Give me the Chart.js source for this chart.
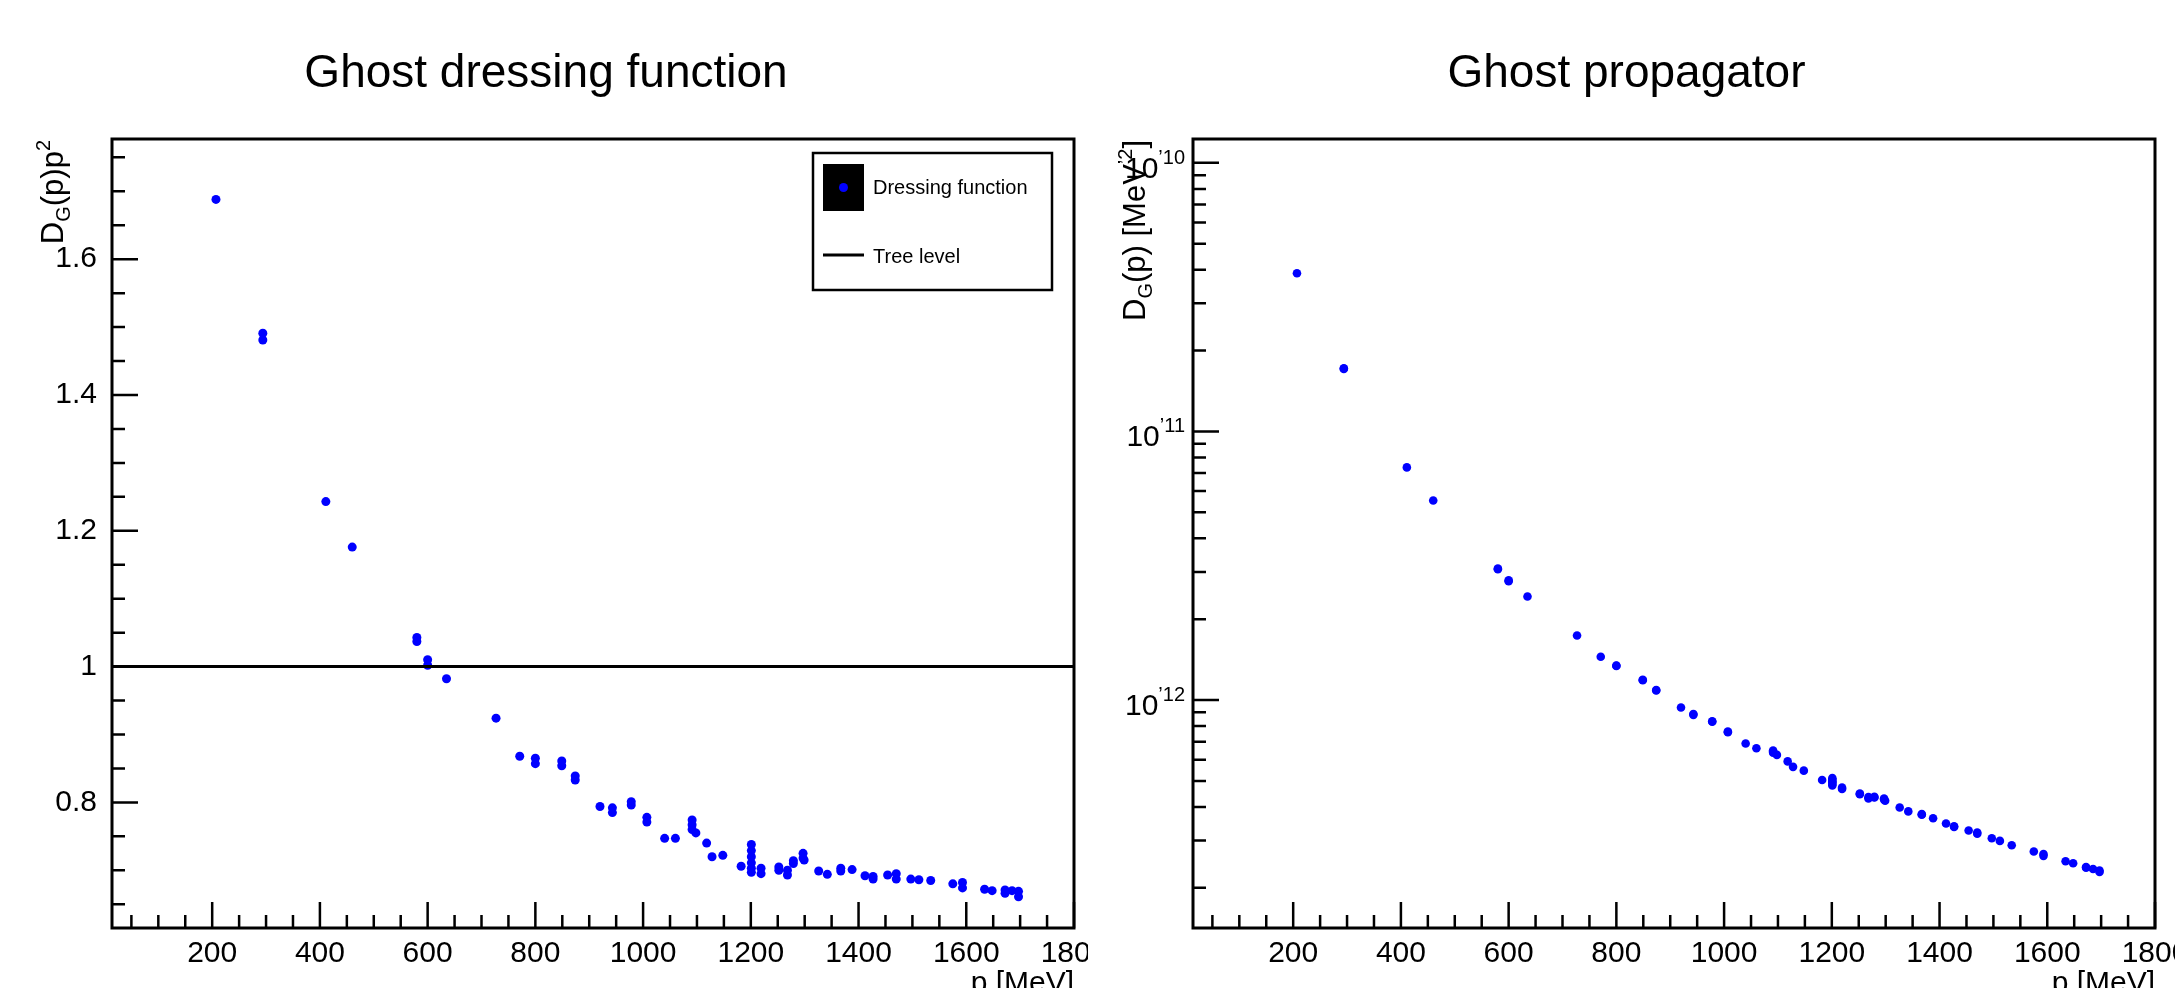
<!DOCTYPE html>
<html>
<head>
<meta charset="utf-8">
<title>Ghost dressing function / Ghost propagator</title>
<script src="https://cdn.jsdelivr.net/npm/chart.js@4.4.1/dist/chart.umd.min.js"></script>
<style>
  html, body { margin: 0; padding: 0; background: #fff; }
  #wrap { position: relative; width: 2175px; height: 988px; overflow: hidden; }
  #wrap canvas { position: absolute; top: 0; }
  #dressing-chart { left: 0; }
  #propagator-chart { left: 1088px; }
</style>
</head>
<body>
<div id="wrap">
  <canvas id="dressing-chart" width="1088" height="988"></canvas>
  <canvas id="propagator-chart" width="1087" height="988"></canvas>
</div>
<script>
// values
const momenta = [
  207, 294, 294, 411, 460, 580, 580, 600, 600, 635,
  727, 771, 800, 800, 849, 849, 874, 874, 920, 943,
  943, 978, 978, 1007, 1007, 1040, 1060, 1091, 1091, 1091,
  1098, 1118, 1128, 1148, 1182, 1201, 1201, 1201, 1201, 1201,
  1201, 1219, 1219, 1252, 1252, 1268, 1268, 1279, 1279, 1297,
  1297, 1299, 1326, 1342, 1367, 1367, 1388, 1412, 1427, 1427,
  1454, 1470, 1470, 1497, 1512, 1534, 1575, 1593, 1593, 1634,
  1648, 1672, 1672, 1685, 1697, 1697
];
const dressing = [
  1.688, 1.491, 1.481, 1.243, 1.176, 1.043, 1.037, 1.010, 1.002, 0.982,
  0.924, 0.868, 0.865, 0.857, 0.861, 0.854, 0.839, 0.833, 0.794, 0.792,
  0.785, 0.801, 0.796, 0.778, 0.771, 0.747, 0.747, 0.774, 0.767, 0.760,
  0.755, 0.740, 0.720, 0.722, 0.706, 0.738, 0.729, 0.720, 0.711, 0.703,
  0.697, 0.703, 0.695, 0.705, 0.700, 0.700, 0.693, 0.714, 0.710, 0.725,
  0.718, 0.715, 0.699, 0.694, 0.703, 0.699, 0.701, 0.692, 0.691, 0.687,
  0.693, 0.695, 0.687, 0.687, 0.686, 0.685, 0.680, 0.682, 0.674, 0.672,
  0.670, 0.671, 0.666, 0.670, 0.669, 0.661
];
const propagator = [
  3.88e-11, 1.72e-11, 1.71e-11, 7.35e-12, 5.53e-12, 3.09e-12, 3.07e-12, 2.79e-12, 2.77e-12, 2.43e-12,
  1.74e-12, 1.45e-12, 1.345e-12, 1.34e-12, 1.19e-12, 1.185e-12, 1.09e-12, 1.085e-12, 9.38e-13, 8.87e-13,
  8.81e-13, 8.34e-13, 8.30e-13, 7.63e-13, 7.59e-13, 6.89e-13, 6.62e-13, 6.49e-13, 6.43e-13, 6.37e-13,
  6.25e-13, 5.91e-13, 5.64e-13, 5.46e-13, 5.04e-13, 5.12e-13, 5.05e-13, 4.98e-13, 4.93e-13, 4.87e-13,
  4.81e-13, 4.72e-13, 4.67e-13, 4.49e-13, 4.46e-13, 4.35e-13, 4.30e-13, 4.36e-13, 4.34e-13, 4.30e-13,
  4.26e-13, 4.22e-13, 3.98e-13, 3.85e-13, 3.76e-13, 3.74e-13, 3.63e-13, 3.47e-13, 3.39e-13, 3.37e-13,
  3.27e-13, 3.21e-13, 3.18e-13, 3.06e-13, 2.99e-13, 2.88e-13, 2.73e-13, 2.67e-13, 2.63e-13, 2.51e-13,
  2.47e-13, 2.39e-13, 2.375e-13, 2.35e-13, 2.32e-13, 2.29e-13
];
const treeLevelMomenta = [14, 1800];
const treeLevelValues = [1, 1];

const momentumRange = [14, 1800];
const dressingRange = [0.615, 1.777];
const propagatorRange = [1.417e-13, 1.227e-10];

const momentumTickLabels = ["200", "400", "600", "800", "1000", "1200", "1400", "1600", "1800"];
const dressingTickLabels = ["0.8", "1", "1.2", "1.4", "1.6"];
const propagatorDecades = [-10, -11, -12];

const FONT = "'Liberation Sans', Arial, Helvetica, sans-serif";

function isMultiple(v, step) {
  const r = v / step;
  return Math.abs(r - Math.round(r)) < 1e-6;
}

function decadeOf(v) {
  const e = Math.floor(Math.log10(v) + 1e-9);
  return { e: e, m: v / Math.pow(10, e) };
}

// text pieces drawn rotated, ending at the top of the frame (ROOT style)
function drawRotatedTitle(ctx, parts, baseX, endY) {
  let total = 0;
  parts.forEach(p => {
    ctx.font = `${p[1]}px ${FONT}`;
    total += ctx.measureText(p[0]).width;
  });
  ctx.save();
  ctx.translate(baseX, endY + total);
  ctx.rotate(-Math.PI / 2);
  ctx.textAlign = "left";
  ctx.textBaseline = "alphabetic";
  let cx = 0;
  parts.forEach(p => {
    ctx.font = `${p[1]}px ${FONT}`;
    ctx.fillText(p[0], cx, p[2]);
    cx += ctx.measureText(p[0]).width;
  });
  ctx.restore();
}

const rootStyle = {
  id: "rootStyle",
  afterDraw(chart, args, opts) {
    const ctx = chart.ctx;
    const a = chart.chartArea;
    const x = chart.scales.x;
    const y = chart.scales.y;
    ctx.save();
    ctx.fillStyle = "#000";
    ctx.strokeStyle = "#000";

    // inward tick marks
    ctx.lineWidth = 2.5;
    ctx.beginPath();
    x.ticks.forEach(t => {
      if (!isMultiple(t.value, 50)) return;
      const px = x.getPixelForValue(t.value);
      const len = isMultiple(t.value, 200) ? 26 : 13;
      ctx.moveTo(px, a.bottom);
      ctx.lineTo(px, a.bottom - len);
    });
    y.ticks.forEach(t => {
      let major;
      if (opts.log) {
        const d = decadeOf(t.value);
        const mr = Math.round(d.m);
        if (Math.abs(d.m - mr) > 1e-6) return;
        major = mr === 1;
      } else {
        if (!isMultiple(t.value, 0.05)) return;
        major = isMultiple(t.value, 0.2);
      }
      const py = y.getPixelForValue(t.value);
      ctx.moveTo(a.left, py);
      ctx.lineTo(a.left + (major ? 26 : 13), py);
    });
    ctx.stroke();

    // frame
    ctx.lineWidth = 3;
    ctx.strokeRect(a.left, a.top, a.right - a.left, a.bottom - a.top);

    // log axis labels 10^exp
    if (opts.log) {
      y.ticks.forEach(t => {
        const d = decadeOf(t.value);
        if (Math.abs(d.m - 1) > 1e-6 || !propagatorDecades.includes(d.e)) return;
        const py = y.getPixelForValue(t.value);
        const sup = "\u2019" + Math.abs(d.e);
        ctx.font = `20px ${FONT}`;
        const ws = ctx.measureText(sup).width;
        ctx.font = `30px ${FONT}`;
        const wb = ctx.measureText("10").width;
        const right = a.left - 8;
        ctx.textAlign = "left";
        ctx.textBaseline = "alphabetic";
        ctx.fillText("10", right - ws - wb, py + 15);
        ctx.font = `20px ${FONT}`;
        ctx.fillText(sup, right - ws, py + 1);
      });
    }

    // chart title
    ctx.font = `46px ${FONT}`;
    ctx.textAlign = "center";
    ctx.textBaseline = "alphabetic";
    ctx.fillText(opts.title, chart.width / 2 + opts.titleShift, 87);

    // axis titles
    drawRotatedTitle(ctx, opts.yTitle, a.left - opts.yTitleGap, a.top + 1);
    ctx.font = `30px ${FONT}`;
    ctx.textAlign = "right";
    ctx.fillText("p [MeV]", a.right, 992);

    // legend box
    if (opts.legend) {
      const L = a.right - 22 - 239;
      const T = a.top + 14;
      ctx.fillStyle = "#fff";
      ctx.fillRect(L, T, 239, 137);
      ctx.lineWidth = 2.5;
      ctx.strokeRect(L, T, 239, 137);
      const ds = chart.data.datasets;
      ctx.fillStyle = "#000";
      ctx.fillRect(L + 10, T + 11, 41, 47);
      ctx.fillStyle = ds[1].pointBackgroundColor;
      ctx.beginPath();
      ctx.arc(L + 30.5, T + 34.5, 4.5, 0, Math.PI * 2);
      ctx.fill();
      ctx.beginPath();
      ctx.lineWidth = 3;
      ctx.moveTo(L + 10, T + 102);
      ctx.lineTo(L + 51, T + 102);
      ctx.stroke();
      ctx.fillStyle = "#000";
      ctx.font = `20px ${FONT}`;
      ctx.textAlign = "left";
      ctx.fillText(ds[1].label, L + 60, T + 41);
      ctx.fillText(ds[0].label, L + 60, T + 110);
    }
    ctx.restore();
  }
};

function xAxis() {
  return {
    type: "linear",
    min: momentumRange[0],
    max: momentumRange[1],
    grid: { display: false },
    border: { display: false },
    ticks: {
      stepSize: 50,
      includeBounds: false,
      autoSkip: false,
      maxRotation: 0,
      padding: 0,
      color: "#000",
      font: { family: FONT, size: 30 },
      callback: v => momentumTickLabels.includes(String(v)) ? String(v) : ""
    },
    afterFit(s) {
      s.height = 60;
      s.paddingLeft = 0;
      s.paddingRight = 0;
    }
  };
}

function baseOptions(yScale, plugOpts, rightGap) {
  return {
    responsive: false,
    animation: false,
    layout: { padding: { top: 139, right: rightGap, bottom: 0, left: 0 } },
    plugins: {
      legend: { display: false },
      tooltip: { enabled: false },
      title: { display: false },
      rootStyle: plugOpts
    },
    scales: { x: xAxis(), y: yScale }
  };
}

function buildDressing() {
  const ctx = document.getElementById("dressing-chart").getContext("2d");
  new Chart(ctx, {
    type: "scatter",
    data: {
      datasets: [
        {
          type: "line",
          label: "Tree level",
          data: treeLevelMomenta.map((p, i) => ({ x: p, y: treeLevelValues[i] })),
          borderColor: "#000",
          borderWidth: 3,
          pointRadius: 0,
          fill: false
        },
        {
          label: "Dressing function",
          data: momenta.map((p, i) => ({ x: p, y: dressing[i] })),
          pointBackgroundColor: "#0000ff",
          pointBorderWidth: 0,
          pointRadius: 4.5
        }
      ]
    },
    options: baseOptions({
      type: "linear",
      min: dressingRange[0],
      max: dressingRange[1],
      grid: { display: false },
      border: { display: false },
      ticks: {
        stepSize: 0.05,
        includeBounds: false,
        autoSkip: false,
        padding: 7,
        color: "#000",
        font: { family: FONT, size: 30 },
        callback: v => {
          const s = String(Math.round(v * 100) / 100);
          return dressingTickLabels.includes(s) ? s : "";
        }
      },
      afterFit(s) {
        s.width = 112;
        s.paddingTop = 0;
        s.paddingBottom = 0;
      }
    }, {
      title: "Ghost dressing function",
      titleShift: 2,
      log: false,
      legend: true,
      yTitleGap: 49,
      yTitle: [["D", 31, 0], ["G", 20, 7], ["(p)p", 31, 0], ["2", 20, -13]]
    }, 14),
    plugins: [rootStyle]
  });
}

function buildPropagator() {
  const ctx = document.getElementById("propagator-chart").getContext("2d");
  new Chart(ctx, {
    type: "scatter",
    data: {
      datasets: [
        {
          label: "Propagator",
          data: momenta.map((p, i) => ({ x: p, y: propagator[i] })),
          pointBackgroundColor: "#0000ff",
          pointBorderWidth: 0,
          pointRadius: 4.3
        }
      ]
    },
    options: baseOptions({
      type: "logarithmic",
      min: propagatorRange[0],
      max: propagatorRange[1],
      grid: { display: false },
      border: { display: false },
      ticks: { display: false },
      afterFit(s) {
        s.width = 105;
        s.paddingTop = 0;
        s.paddingBottom = 0;
      }
    }, {
      title: "Ghost propagator",
      titleShift: -5,
      log: true,
      legend: false,
      yTitleGap: 48,
      yTitle: [["D", 31, 0], ["G", 20, 7], ["(p) [MeV", 31, 0], ["\u20192", 20, -13], ["]", 31, 0]]
    }, 20),
    plugins: [rootStyle]
  });
}

buildDressing();
buildPropagator();
</script>
</body>
</html>
